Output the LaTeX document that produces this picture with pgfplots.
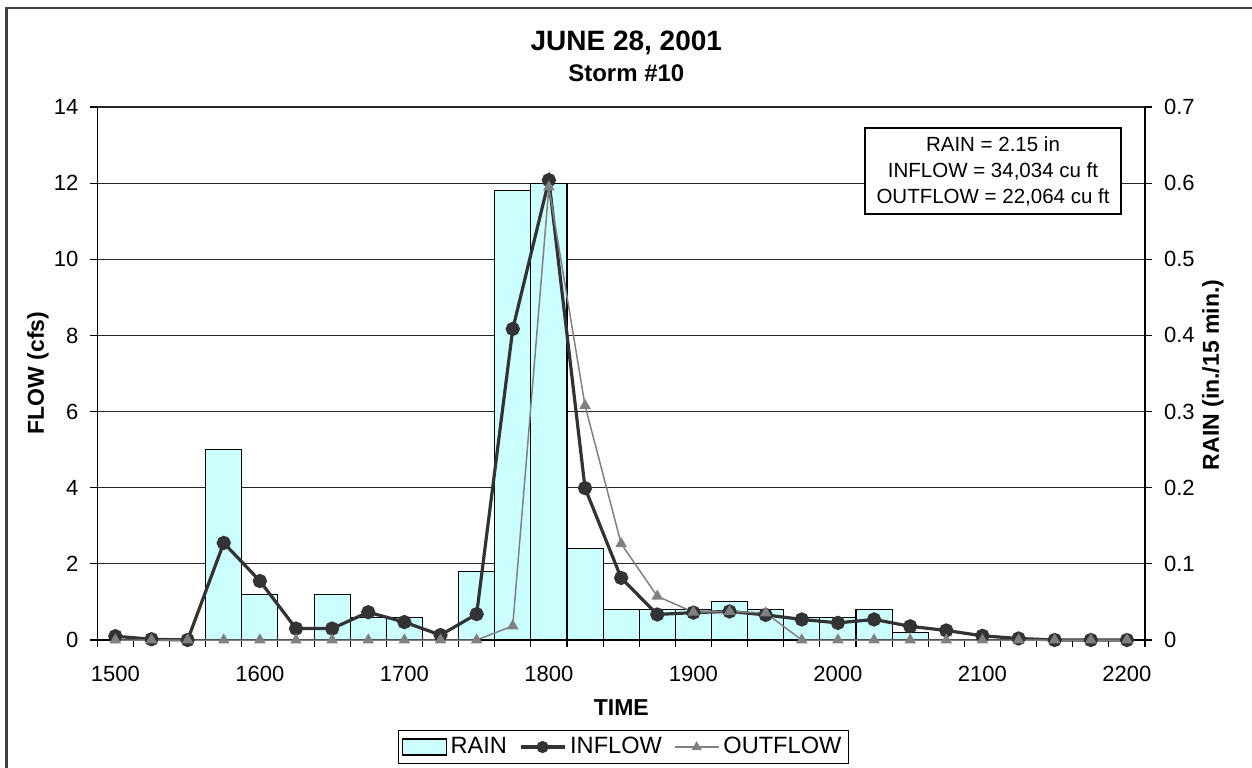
\documentclass[border=0pt]{standalone}
\usepackage{fontspec}
\setmainfont{Liberation Sans}
\usepackage{pgfplots}
\pgfplotsset{compat=1.18}
\definecolor{raincyan}{HTML}{CCFFFF}
\definecolor{inflowc}{HTML}{333333}
\definecolor{outflowc}{HTML}{808080}
\pgfplotsset{
  linelegend/.style={legend image code/.code={%
    \draw[##1, mark=none] (-11bp,0bp) -- (11bp,0bp);
    \draw[##1, mark size=2.2bp, mark repeat=2, mark phase=2] plot coordinates {(-11bp,0bp) (0bp,0bp) (11bp,0bp)};}},
  rainlegend/.style={legend image code/.code={%
    \draw[fill=raincyan, draw=black, line width=0.55bp] (0bp,-4bp) rectangle (22bp,4bp);}},
}

\begin{document}
\begin{tikzpicture}
\useasboundingbox (-48.65bp,-64bp) rectangle (577.35bp,320bp);
\draw[line width=1.2bp, black!75] (-45.4bp,-70bp) -- (-45.4bp,316bp) -- (590bp,316bp);

% ---- rain axis (right), drawn first: grid + bars
\begin{axis}[
  scale only axis, width=523.85bp, height=266.5bp,
  xmin=-0.5, xmax=28.5, ymin=0, ymax=0.7,
  axis x line=none,
  axis y line*=right,
  ytick={0,0.1,0.2,0.3,0.4,0.5,0.6,0.7},
  yticklabels={0,0.1,0.2,0.3,0.4,0.5,0.6,0.7},
  yticklabel style={xshift=2.5bp},
  ymajorgrids,
  major grid style={black!85, line width=0.55bp},
  tick align=outside, major tick length=3.5bp,
  tick style={black, line width=0.55bp},
  axis line style={black, line width=0.55bp},
  ticklabel style={font=\fontsize{11bp}{13bp}\selectfont},
  ybar, bar width=1,
]
\addplot[fill=raincyan, draw=black, line width=0.55bp] coordinates {
 (3,0.25) (4,0.06) (6,0.06) (7,0.03) (8,0.03) (10,0.09)
 (11,0.59) (12,0.60) (13,0.12) (14,0.04) (15,0.04) (16,0.04)
 (17,0.05) (18,0.04) (19,0.03) (20,0.03) (21,0.04) (22,0.01)
};
\end{axis}

% ---- flow axis (left), on top
\begin{axis}[
  scale only axis, width=523.85bp, height=266.5bp,
  xmin=-0.5, xmax=28.5, ymin=0, ymax=14,
  axis x line*=bottom, axis y line*=left,
  clip=false,
  xtick={-0.5,0.5,...,28.5}, xticklabels={},
  extra x ticks={0,4,8,12,16,20,24,28},
  extra x tick labels={1500,1600,1700,1800,1900,2000,2100,2200},
  extra x tick style={tick style={draw=none}},
  xticklabel style={yshift=-6bp},
  ytick={0,2,4,6,8,10,12,14},
  yticklabels={0,2,4,6,8,10,12,14},
  yticklabel style={xshift=-2.5bp},
  tick align=outside, major tick length=3.5bp,
  tick style={black, line width=0.55bp},
  axis line style={black, line width=0.55bp},
  ticklabel style={font=\fontsize{11bp}{13bp}\selectfont},
  legend style={at={(0.5022,-0.2008)}, anchor=center, legend columns=3,
    draw=black, line width=0.55bp, inner sep=1.5bp,
    font=\fontsize{11.8bp}{14bp}\selectfont,
    /tikz/every odd column/.append style={column sep=0bp},
    /tikz/every even column/.append style={column sep=4bp}},
]
\addlegendimage{rainlegend}
\addlegendentry{RAIN}
\addplot[color=inflowc, line width=1.6bp, mark=*, mark size=2.75bp, linelegend]
 coordinates {
 (0,0.10) (1,0.02) (2,0.0) (3,2.55) (4,1.55) (5,0.30) (6,0.30) (7,0.73)
 (8,0.47) (9,0.13) (10,0.68) (11,8.17) (12,12.08) (13,3.99) (14,1.63)
 (15,0.67) (16,0.72) (17,0.75) (18,0.66) (19,0.54) (20,0.45) (21,0.54)
 (22,0.36) (23,0.25) (24,0.11) (25,0.04) (26,0.0) (27,0.0) (28,0.0)
};
\addlegendentry{INFLOW}
\addplot[color=outflowc, line width=0.75bp, mark=triangle*, mark size=2.6bp, linelegend]
 coordinates {
 (0,0) (1,0) (2,0) (3,0) (4,0) (5,0) (6,0) (7,0) (8,0) (9,0) (10,0)
 (11,0.37) (12,11.9) (13,6.16) (14,2.53) (15,1.15) (16,0.73) (17,0.75)
 (18,0.71) (19,0) (20,0) (21,0) (22,0) (23,0) (24,0) (25,0) (26,0)
 (27,0) (28,0)
};
\addlegendentry{OUTFLOW}
\end{axis}

\node[font=\bfseries\fontsize{14bp}{16bp}\selectfont] at (264.5bp,298.5bp) {JUNE 28, 2001};
\node[font=\bfseries\fontsize{12bp}{14bp}\selectfont] at (264.5bp,283.5bp) {Storm \#10};
\node[rotate=90, font=\bfseries\fontsize{11.5bp}{13bp}\selectfont] at (-29.65bp,133.5bp) {FLOW (cfs)};
\node[rotate=90, font=\bfseries\fontsize{11.5bp}{13bp}\selectfont] at (557.85bp,132.5bp) {RAIN (in./15 min.)};
\node[font=\bfseries\fontsize{11.5bp}{13bp}\selectfont] at (262bp,-34bp) {TIME};
\node[draw=black, line width=0.55bp, fill=white, minimum width=128bp, minimum height=43bp,
  align=center, inner sep=0pt, font=\fontsize{10.25bp}{13bp}\selectfont] at (447.85bp,234.5bp)
  {RAIN = 2.15 in\\INFLOW = 34,034 cu ft\\OUTFLOW = 22,064 cu ft};
\end{tikzpicture}
\end{document}
